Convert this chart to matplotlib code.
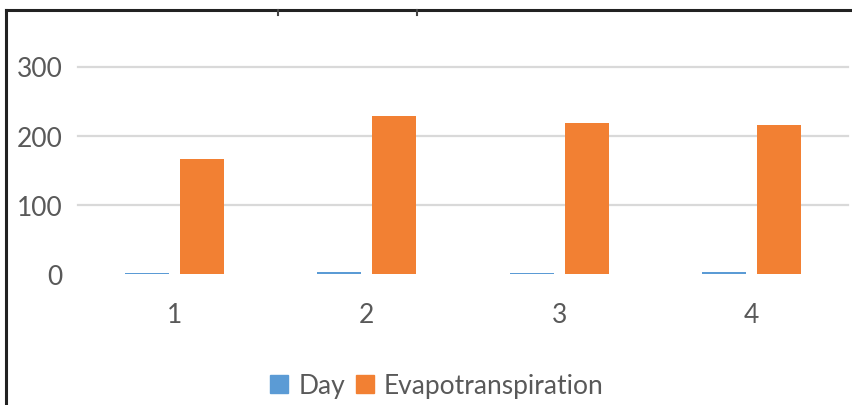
import matplotlib
matplotlib.use("Agg")
import matplotlib.pyplot as plt
from matplotlib.lines import Line2D
from matplotlib.patches import Patch
import numpy as np

categories = ["1", "2", "3", "4"]
day = [1.5, 2.5, 1.5, 2.5]
evapotranspiration = [166, 229, 218, 216]
y_ticks = [0, 100, 200, 300]

BLUE = "#5B9BD5"
ORANGE = "#F28033"
TEXT = "#595959"
GRID = "#D9D9D9"
FONT = "Lato"

W, H = 852, 406
fig = plt.figure(figsize=(W / 100, H / 100), dpi=100)

# plot area in pixels: x 78..848, y 67.5 (300) .. 275 (0)
left, right, top, bottom = 78, 848, 67.5, 275
ax = fig.add_axes([left / W, 1 - bottom / H, (right - left) / W, (bottom - top) / H])

x = np.arange(1, len(categories) + 1)
bw = 0.2286
off = 0.143
ax.bar(x - off, day, width=bw, color=BLUE, label="Day", zorder=3)
ax.bar(x + off, evapotranspiration, width=bw, color=ORANGE, label="Evapotranspiration", zorder=3)

ax.set_xlim(0.5, 4.5)
ax.set_ylim(0, 300)
ax.set_xticks(x)
ax.set_xticklabels(categories)
ax.set_yticks(y_ticks)
ax.set_yticklabels([str(v) for v in y_ticks])
ax.tick_params(axis="both", length=0, labelsize=19, labelcolor=TEXT)
ax.tick_params(axis="x", pad=20)
ax.tick_params(axis="y", pad=11)
for lab in ax.get_xticklabels() + ax.get_yticklabels():
    lab.set_fontfamily(FONT)

for v in y_ticks[1:]:
    ax.axhline(v, color=GRID, lw=1.6, zorder=1, clip_on=False)
for s in ax.spines.values():
    s.set_visible(False)
ax.set_facecolor("none")

handles = [Patch(color=BLUE, label="Day"), Patch(color=ORANGE, label="Evapotranspiration")]
leg = fig.legend(handles=handles, loc="center", bbox_to_anchor=(437 / W, 1 - 387 / H),
                 ncol=2, frameon=False, handlelength=0.68, handleheight=0.68,
                 handletextpad=0.38, columnspacing=0.42,
                 prop={"family": FONT, "size": 19})
for t in leg.get_texts():
    t.set_color(TEXT)

# outer frame: left and top edges, with two small ticks on the top edge
frame_kw = dict(color="#222222", lw=2.2, transform=fig.transFigure)
fig.add_artist(Line2D([6 / W, 6 / W], [0, 1 - 10.5 / H], **frame_kw))
fig.add_artist(Line2D([6 / W, 1], [1 - 10.5 / H, 1 - 10.5 / H], **frame_kw))
for px in (278, 417):
    fig.add_artist(Line2D([px / W, px / W], [1 - 10.5 / H, 1 - 16 / H],
                          color="#444444", lw=1.5, transform=fig.transFigure))

fig.savefig("out.png", dpi=100)
